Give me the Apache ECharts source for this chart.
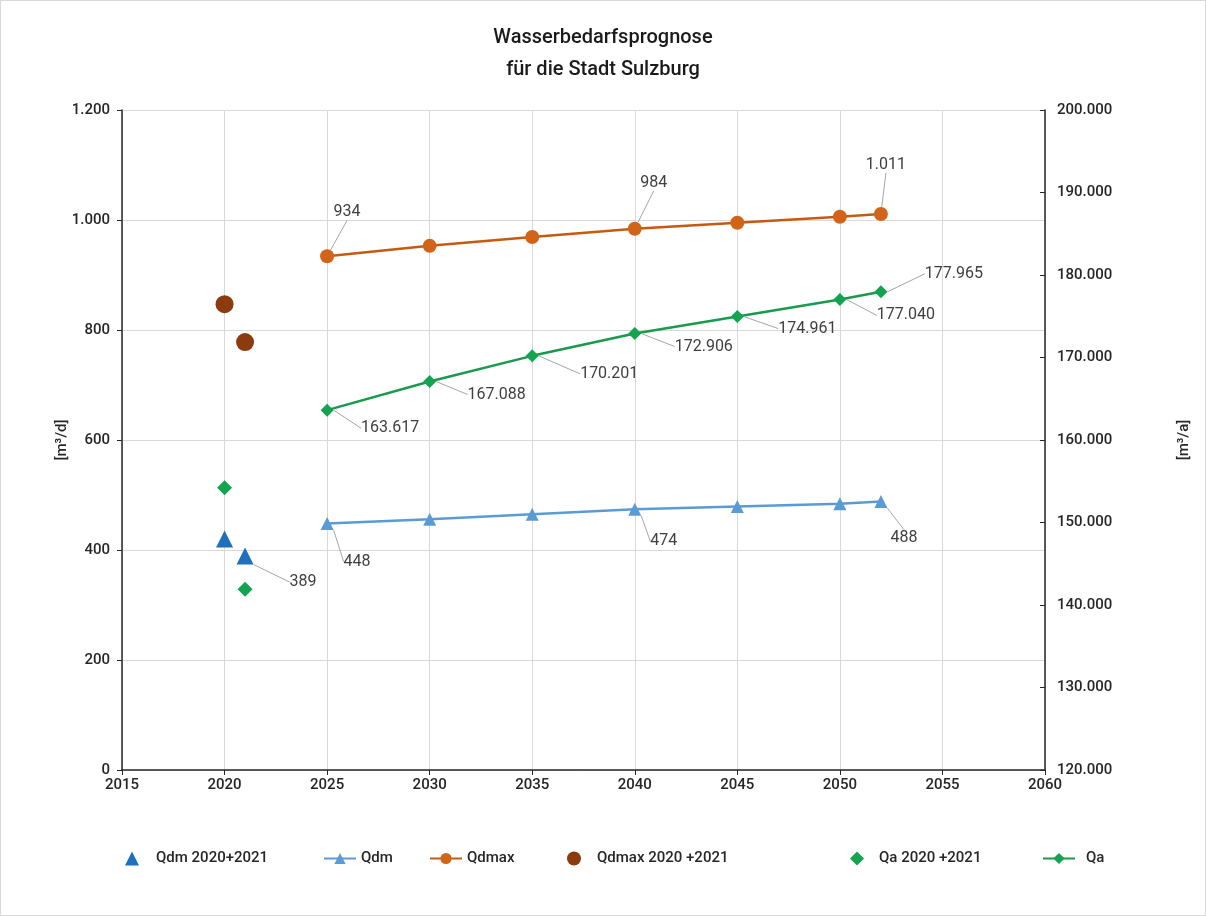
<!DOCTYPE html>
<html>
<head>
<meta charset="utf-8">
<script src="https://cdn.jsdelivr.net/npm/echarts@6/dist/echarts.min.js"></script>
<style>
  html, body { margin: 0; padding: 0; background: #fff; }
  #chart { width: 1204px; height: 914px; border: 1px solid #d9d9d9; }
</style>
</head>
<body>
<div id="chart"></div>
<script>
// Daten
const years = [2025, 2030, 2035, 2040, 2045, 2050, 2052];
const histYears = [2020, 2021];
const qdm = [448, 456, 465, 474, 479, 484, 488];
const qdmax = [934, 953, 969, 984, 995, 1006, 1011];
const qa = [163617, 167088, 170201, 172906, 174961, 177040, 177965];
const qdmHist = [420, 389];
const qdmaxHist = [847, 778];
const qaHist = [154200, 141900];

const legendNames = ['Qdm 2020+2021', 'Qdm', 'Qdmax', 'Qdmax 2020 +2021', 'Qa 2020 +2021', 'Qa'];

// welche Punkte beschriftet werden, und wohin das Label rückt
const labelOffsets = {
  'Qdm 2020+2021': { 1: [58, 26] },
  'Qdm': { 0: [30, 38], 3: [29, 32], 6: [23, 36] },
  'Qdmax': { 0: [20, -44], 3: [19, -46], 6: [5, -49] },
  'Qa': { 0: [63, 18], 1: [67, 13], 2: [77, 18], 3: [69, 13], 4: [70, 12], 5: [66, 16], 6: [73, -18] }
};

const fontFamily = 'Roboto, "Noto Sans", sans-serif';

function deNum(v) {
  return String(Math.round(v)).replace(/\B(?=(\d{3})+(?!\d))/g, '.');
}

function pairs(xs, ys, name) {
  const offs = labelOffsets[name] || {};
  return xs.map((x, i) => {
    const item = { value: [x, ys[i]] };
    if (offs[i]) item.label = { show: true };
    return item;
  });
}

function layoutFor(name) {
  const offs = labelOffsets[name] || {};
  return function (params) {
    const o = offs[params.dataIndex];
    if (!o) return {};
    return { dx: o[0], dy: o[1] };
  };
}

const labelBase = {
  show: false,
  position: 'inside',
  fontSize: 16,
  color: '#404040',
  fontFamily: fontFamily,
  formatter: p => deNum(p.value[1])
};
const guide = { show: true, lineStyle: { color: '#a6a6a6', width: 1 }, length: 0, length2: 0 };

// eine Legende je Eintrag, damit Marker nicht verzerrt werden
const legendLeft = [119, 317, 423, 561, 844, 1036];
const legendIsLine = [false, true, true, false, false, true];
const legendTextGap = [12, 0, 0, 11, 10, 6];
const legends = legendNames.map((n, i) => ({
  data: [n],
  left: legendLeft[i],
  bottom: 44,
  itemWidth: legendIsLine[i] ? 32 : 14,
  itemHeight: 14,
  itemGap: 0,
  textStyle: { fontSize: 15, color: '#262626', fontWeight: 500, padding: [0, 0, 0, legendTextGap[i]] }
}));

const chart = echarts.init(document.getElementById('chart'));

const axisText = { fontSize: 15, color: '#262626', fontWeight: 500 };

const option = {
  animation: false,
  backgroundColor: '#fff',
  textStyle: { fontFamily: fontFamily },
  title: {
    text: 'Wasserbedarfsprognose\nfür die Stadt Sulzburg',
    left: 'center',
    top: 16,
    textStyle: { fontSize: 20, fontWeight: 500, color: '#1a1a1a', lineHeight: 32, fontFamily: fontFamily }
  },
  grid: { left: 121, right: 160, top: 109, bottom: 145 },
  legend: legends,
  xAxis: {
    type: 'value',
    min: 2015,
    max: 2060,
    interval: 5,
    axisLine: { show: true, onZero: false, lineStyle: { color: '#262626', width: 1.5 } },
    axisTick: { show: true, length: 5, lineStyle: { color: '#262626' } },
    axisLabel: Object.assign({ margin: 8, formatter: v => String(v) }, axisText),
    splitLine: { show: true, lineStyle: { color: '#d9d9d9' } }
  },
  yAxis: [
    {
      type: 'value',
      min: 0,
      max: 1200,
      interval: 200,
      name: '[m³/d]',
      nameLocation: 'middle',
      nameGap: 52,
      nameRotate: 90,
      nameMoveOverlap: false,
      nameTextStyle: axisText,
      axisLine: { show: true, lineStyle: { color: '#262626', width: 1.5 } },
      axisTick: { show: true, length: 5, lineStyle: { color: '#262626' } },
      axisLabel: Object.assign({ margin: 12, formatter: v => deNum(v) }, axisText),
      splitLine: { show: true, lineStyle: { color: '#d9d9d9' } }
    },
    {
      type: 'value',
      min: 120000,
      max: 200000,
      interval: 10000,
      name: '[m³/a]',
      nameLocation: 'middle',
      nameGap: 132,
      nameRotate: 90,
      nameTextStyle: axisText,
      axisLine: { show: true, lineStyle: { color: '#262626', width: 1.5 } },
      axisTick: { show: true, inside: true, length: 5, lineStyle: { color: '#262626' } },
      axisLabel: Object.assign({ margin: 12, formatter: v => deNum(v) }, axisText),
      splitLine: { show: false }
    }
  ],
  series: [
    {
      name: 'Qdm 2020+2021',
      type: 'scatter',
      yAxisIndex: 0,
      symbol: 'triangle',
      symbolSize: 17,
      itemStyle: { color: '#1f6fbd', opacity: 1 },
      label: labelBase,
      labelLine: guide,
      labelLayout: layoutFor('Qdm 2020+2021'),
      data: pairs(histYears, qdmHist, 'Qdm 2020+2021')
    },
    {
      name: 'Qdm',
      type: 'line',
      yAxisIndex: 0,
      symbol: 'triangle',
      symbolSize: 13,
      showAllSymbol: true,
      lineStyle: { color: '#5b9bd5', width: 2.5 },
      itemStyle: { color: '#5b9bd5' },
      label: labelBase,
      labelLine: guide,
      labelLayout: layoutFor('Qdm'),
      data: pairs(years, qdm, 'Qdm')
    },
    {
      name: 'Qdmax',
      type: 'line',
      yAxisIndex: 0,
      symbol: 'circle',
      symbolSize: 14,
      lineStyle: { color: '#c55a11', width: 2.5 },
      itemStyle: { color: '#d2641a' },
      label: labelBase,
      labelLine: guide,
      labelLayout: layoutFor('Qdmax'),
      data: pairs(years, qdmax, 'Qdmax')
    },
    {
      name: 'Qdmax 2020 +2021',
      type: 'scatter',
      yAxisIndex: 0,
      symbol: 'circle',
      symbolSize: 18,
      itemStyle: { color: '#8c3b0e', opacity: 1 },
      data: histYears.map((x, i) => [x, qdmaxHist[i]])
    },
    {
      name: 'Qa 2020 +2021',
      type: 'scatter',
      yAxisIndex: 1,
      symbol: 'diamond',
      symbolSize: 15,
      itemStyle: { color: '#12a450', opacity: 1 },
      data: histYears.map((x, i) => [x, qaHist[i]])
    },
    {
      name: 'Qa',
      type: 'line',
      yAxisIndex: 1,
      symbol: 'diamond',
      symbolSize: 13,
      lineStyle: { color: '#1a9a4c', width: 2.5 },
      itemStyle: { color: '#12a450' },
      label: labelBase,
      labelLine: guide,
      labelLayout: layoutFor('Qa'),
      data: pairs(years, qa, 'Qa')
    }
  ]
};

chart.setOption(option);
</script>
</body>
</html>
